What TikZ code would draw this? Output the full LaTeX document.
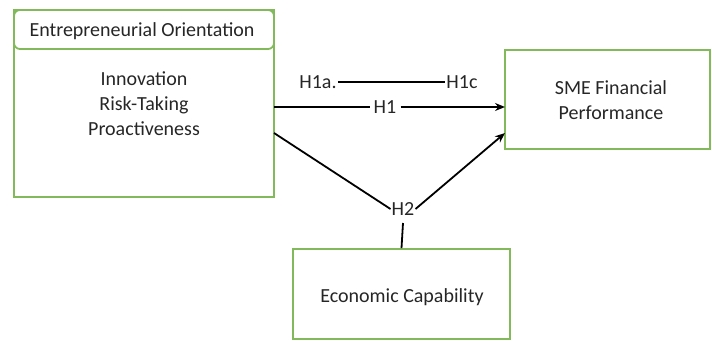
\documentclass[tikz,border=0pt]{standalone}
\usepackage{fontspec}
\setmainfont{Carlito}
\usetikzlibrary{arrows.meta}
\definecolor{boxgreen}{RGB}{130,185,90}
\tikzset{
  gbox/.style={draw=boxgreen, line width=1.8pt},
  lbl/.style={font=\fontsize{20}{25}\selectfont, text=black!85, inner sep=1pt},
  conn/.style={draw=black, line width=1.8pt},
  arr/.style={conn, -{Stealth[length=10pt,width=8pt]}}
}
\begin{document}
\begin{tikzpicture}[x=1pt,y=-1pt]
\useasboundingbox (0,0) rectangle (712,340);
% EO box
\draw[gbox] (14,10) rectangle (274,197);
\draw[gbox, rounded corners=6pt] (14,10) rectangle (274,49);
\node[lbl] (eohead) at (142,31) {Entrepreneurial Orientation};
\node[lbl, align=center] (eo) at (144,104) {Innovation\\Risk-Taking\\Proactiveness};
\coordinate (eoR1) at (274,107);
\coordinate (eoR2) at (274,133);
% SME box
\node[gbox, minimum width=205pt, minimum height=99pt] (sme) at (607.5,99.5) {};
\node[lbl, align=center] (smet) at (611,100) {SME Financial\\Performance};
\coordinate (smeL1) at (505,107);
\coordinate (smeL2) at (505,133);
% EC box
\node[gbox, minimum width=217pt, minimum height=90pt] (ec) at (401.5,294) {};
\node[lbl] (ect) at (402,297) {Economic Capability};
% labels
\node[lbl] (h1a) at (318,82) {H1a.};
\node[lbl] (h1c) at (462,82) {H1c};
\node[lbl, fill=white, inner xsep=4pt] (h1) at (385,107) {H1};
\node[lbl] (h2) at (403,209) {H2};
% connectors
\draw[conn] (h1a.east) -- (h1c.west);
\draw[conn] (eoR1) -- (h1.west);
\draw[arr] (h1.east) -- (smeL1);
\draw[conn] (eoR2) -- (h2.west);
\draw[arr] (h2.east) -- (smeL2);
\draw[conn] (h2.south |- 0,223) -- (ec.north);
\end{tikzpicture}
\end{document}
